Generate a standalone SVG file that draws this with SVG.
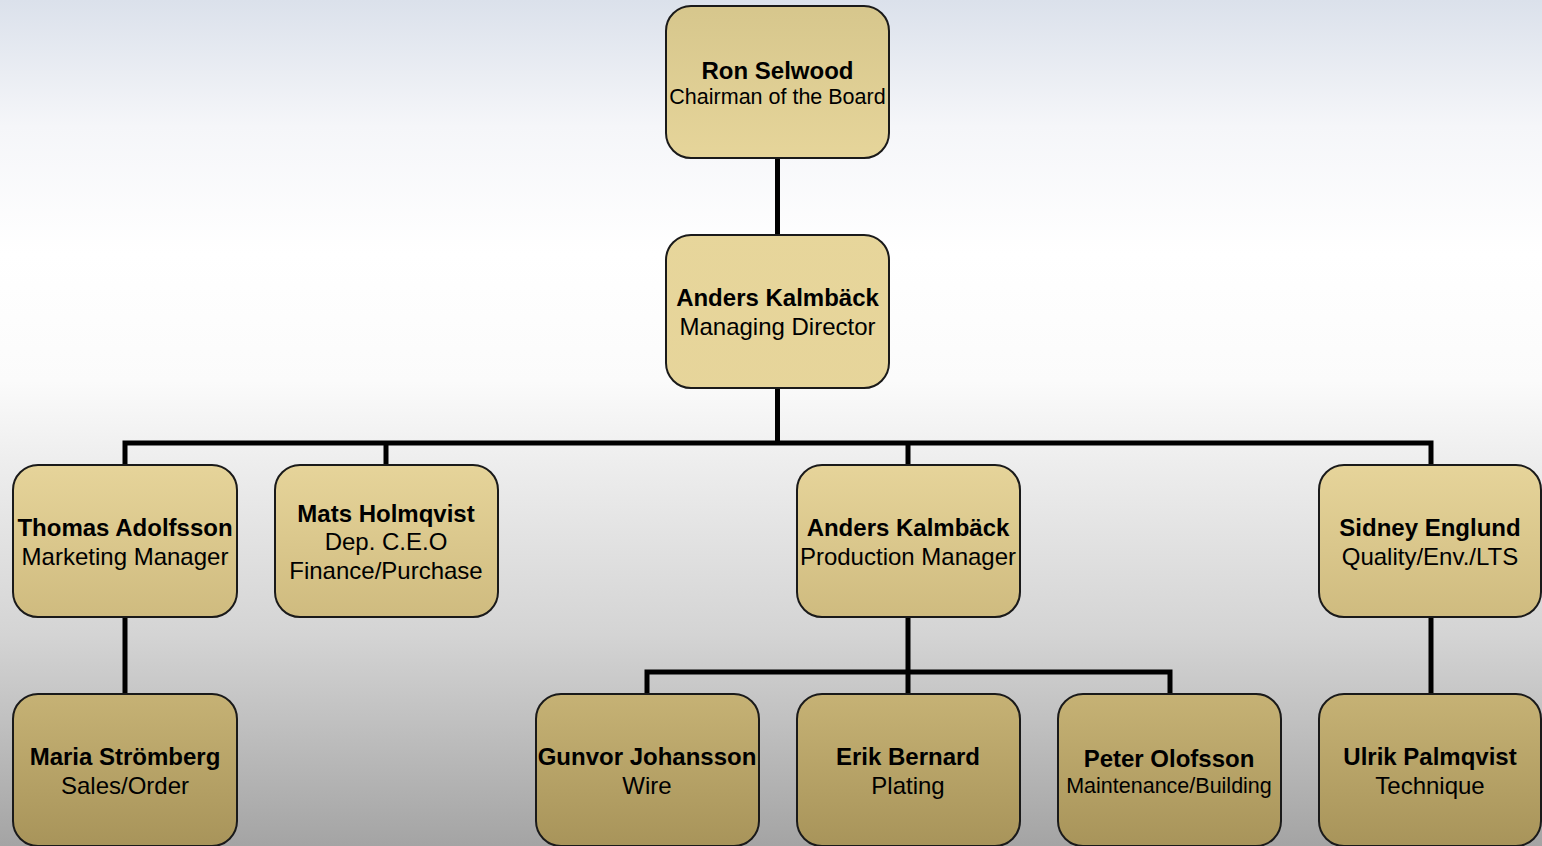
<svg xmlns="http://www.w3.org/2000/svg" width="1542" height="846" viewBox="0 0 1542 846">
<defs>
<linearGradient id="bg" x1="0" y1="0" x2="0" y2="846" gradientUnits="userSpaceOnUse">
<stop offset="0" stop-color="#dbe1eb"/>
<stop offset="0.15" stop-color="#f5f6f9"/>
<stop offset="0.3" stop-color="#ffffff"/>
<stop offset="0.45" stop-color="#fbfbfb"/>
<stop offset="0.55" stop-color="#ededed"/>
<stop offset="0.75" stop-color="#d4d4d4"/>
<stop offset="1" stop-color="#a4a4a4"/>
</linearGradient>
<linearGradient id="nf" x1="0" y1="0" x2="0" y2="846" gradientUnits="userSpaceOnUse">
<stop offset="0" stop-color="#d6c68c"/>
<stop offset="0.2" stop-color="#e7d69b"/>
<stop offset="0.55" stop-color="#e6d49a"/>
<stop offset="0.73" stop-color="#cfbb7f"/>
<stop offset="0.82" stop-color="#c6b275"/>
<stop offset="1" stop-color="#a8945a"/>
</linearGradient>
<style>
.box{fill:url(#nf);stroke:#1a1a1a;stroke-width:2}
.n{font-family:"Liberation Sans",Arial,sans-serif;font-weight:bold;font-size:24px;fill:#000;text-anchor:middle}
.r{font-family:"Liberation Sans",Arial,sans-serif;font-size:24px;fill:#000;text-anchor:middle}
.s{font-size:21.5px}
.c{fill:none;stroke:#000;stroke-width:5}
</style>
</defs>
<rect width="1542" height="846" fill="url(#bg)"/>
<g id="connectors">
<path class="c" d="M777.5 158V235"/>
<path class="c" d="M777.5 388V443"/>
<path class="c" d="M125 465V443H1431V465"/>
<path class="c" d="M386 443V465"/>
<path class="c" d="M908 443V465"/>
<path class="c" d="M125 617V694"/>
<path class="c" d="M908 617V694"/>
<path class="c" d="M647 694V672H1170V694"/>
<path class="c" d="M1431 617V694"/>
</g>
<g id="ron">
<rect class="box" x="666" y="6" width="223" height="152" rx="25"/>
<text class="n" x="777.5" y="78.5">Ron Selwood</text>
<text class="r s" x="777.5" y="104">Chairman of the Board</text>
</g>
<g id="anders-md">
<rect class="box" x="666" y="235" width="223" height="153" rx="25"/>
<text class="n" x="777.5" y="305.5">Anders Kalmbäck</text>
<text class="r" x="777.5" y="334.5">Managing Director</text>
</g>
<g id="thomas">
<rect class="box" x="13" y="465" width="224" height="152" rx="25"/>
<text class="n" x="125" y="535.5">Thomas Adolfsson</text>
<text class="r" x="125" y="564.5">Marketing Manager</text>
</g>
<g id="mats">
<rect class="box" x="275" y="465" width="223" height="152" rx="25"/>
<text class="n" x="386" y="521.5">Mats Holmqvist</text>
<text class="r" x="386" y="549.5">Dep. C.E.O</text>
<text class="r" x="386" y="578.5">Finance/Purchase</text>
</g>
<g id="anders-pm">
<rect class="box" x="797" y="465" width="223" height="152" rx="25"/>
<text class="n" x="908" y="535.5">Anders Kalmbäck</text>
<text class="r" x="908" y="564.5">Production Manager</text>
</g>
<g id="sidney">
<rect class="box" x="1319" y="465" width="222" height="152" rx="25"/>
<text class="n" x="1430" y="535.5">Sidney Englund</text>
<text class="r" x="1430" y="564.5">Quality/Env./LTS</text>
</g>
<g id="maria">
<rect class="box" x="13" y="694" width="224" height="152" rx="25"/>
<text class="n" x="125" y="764.5">Maria Strömberg</text>
<text class="r" x="125" y="793.5">Sales/Order</text>
</g>
<g id="gunvor">
<rect class="box" x="536" y="694" width="223" height="152" rx="25"/>
<text class="n" x="647" y="764.5">Gunvor Johansson</text>
<text class="r" x="647" y="793.5">Wire</text>
</g>
<g id="erik">
<rect class="box" x="797" y="694" width="223" height="152" rx="25"/>
<text class="n" x="908" y="764.5">Erik Bernard</text>
<text class="r" x="908" y="793.5">Plating</text>
</g>
<g id="peter">
<rect class="box" x="1058" y="694" width="223" height="152" rx="25"/>
<text class="n" x="1169" y="766.5">Peter Olofsson</text>
<text class="r s" x="1169" y="793">Maintenance/Building</text>
</g>
<g id="ulrik">
<rect class="box" x="1319" y="694" width="222" height="152" rx="25"/>
<text class="n" x="1430" y="764.5">Ulrik Palmqvist</text>
<text class="r" x="1430" y="793.5">Technique</text>
</g>
</svg>
